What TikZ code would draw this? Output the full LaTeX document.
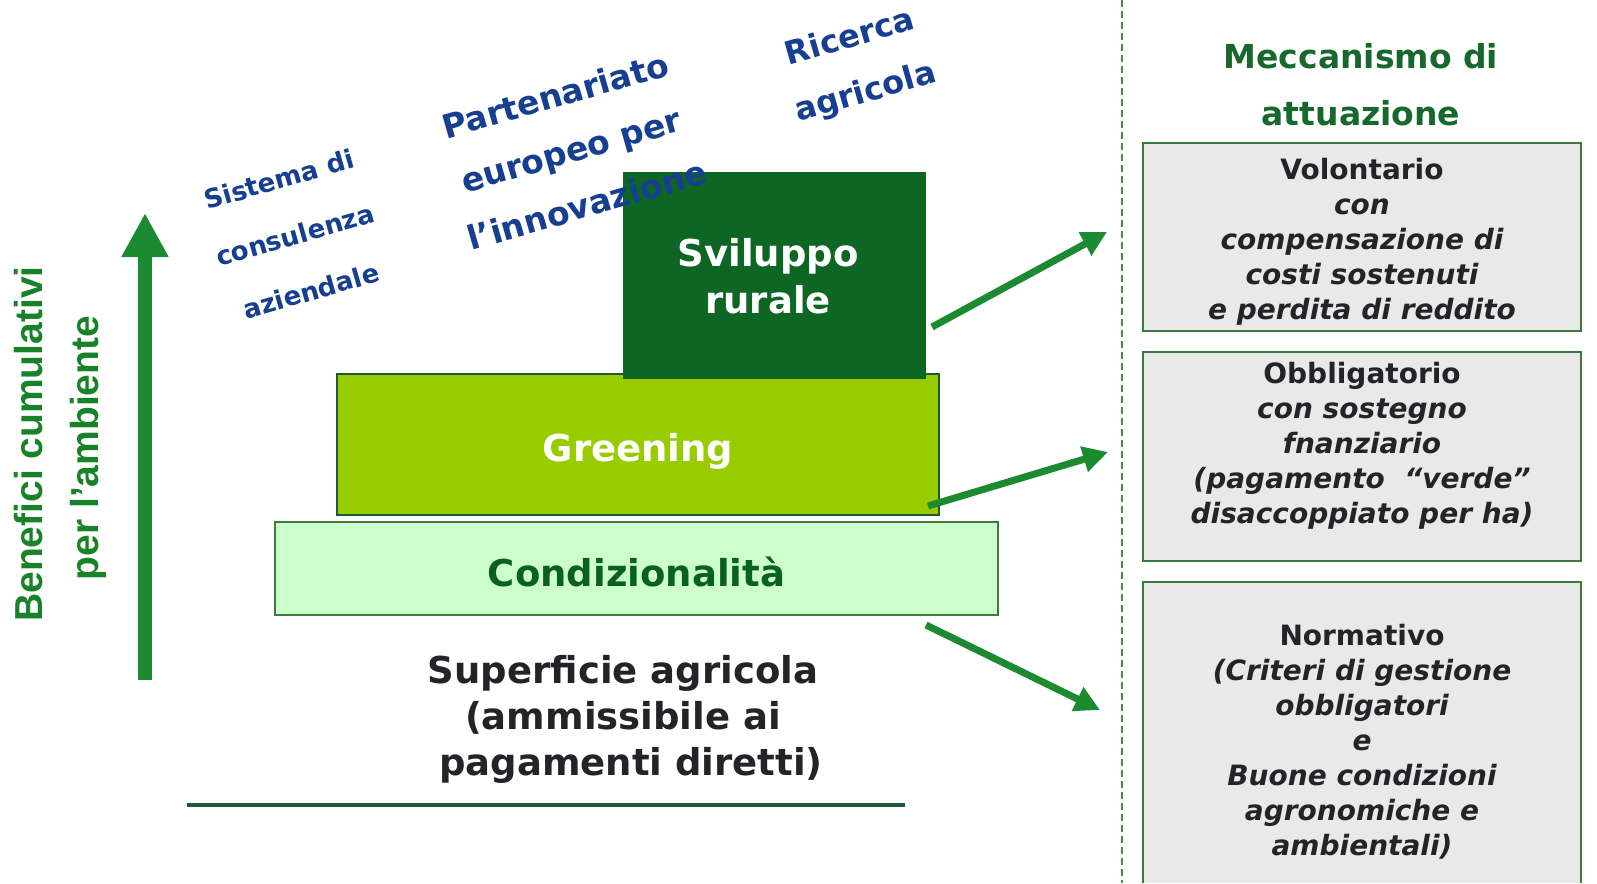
\documentclass[tikz,border=0pt]{standalone}
\usepackage{fontspec}
\setmainfont{DejaVu Sans}
\newfontfamily\arialf{Liberation Sans}
\usetikzlibrary{arrows.meta}
\definecolor{arrowgreen}{RGB}{28,138,48}
\definecolor{benegreen}{RGB}{24,130,40}
\definecolor{titlegreen}{RGB}{22,104,44}
\definecolor{svdark}{RGB}{14,102,36}
\definecolor{greenlime}{RGB}{153,204,0}
\definecolor{condfill}{RGB}{204,255,204}
\definecolor{condtext}{RGB}{10,96,30}
\definecolor{boxborder}{RGB}{62,122,62}
\definecolor{boxfill}{RGB}{233,233,233}
\definecolor{darktext}{RGB}{36,36,40}
\definecolor{bluetext}{RGB}{22,62,145}
\definecolor{linedark}{RGB}{30,90,55}
\definecolor{dashgreen}{RGB}{70,140,70}
\begin{document}
\begin{tikzpicture}[x=1pt,y=-1pt,
  blk/.style={anchor=north west,inner sep=0pt,outer sep=0pt},
  mech/.style={blk,fill=boxfill,draw=boxborder,line width=2pt,minimum width=438pt},
  mtext/.style={align=center,font=\fontsize{28}{35}\selectfont\bfseries\itshape,text=darktext,inner sep=0pt},
  bigtxt/.style={font=\fontsize{37}{47}\selectfont\bfseries,inner sep=0pt,align=center},
  rottxt/.style={align=center,text=bluetext,inner sep=0pt},
  sidetxt/.style={rotate=90,font=\fontsize{39}{46}\selectfont\arialf\bfseries,text=benegreen,inner sep=0pt},
  slant/.style={arrowgreen,line width=7pt,-{Triangle[width=25pt,length=25pt]}}
]
\fill[white] (0,0) rectangle (1597,883);
\useasboundingbox (0,0) rectangle (1597,883);

% dashed separator
\coordinate (dtop) at (1122,0);
\coordinate (dbot) at (1122,883);
\draw[dashgreen,line width=1.2pt,dash pattern=on 7pt off 4pt] (dtop) -- (dbot);

% left axis
\node[sidetxt] (benefici) at (29,444) {Benefici cumulativi};
\node[sidetxt] (ambiente) at (88,448) {per l’ambiente};
\coordinate (vb) at (145,680);
\coordinate (vt) at (145,213);
\draw[arrowgreen,line width=14pt,-{Triangle[width=44pt,length=44pt]}] (vb) -- (vt);

% pyramid
\node[blk,fill=condfill,draw=boxborder,line width=1.5pt,minimum width=723pt,minimum height=93pt] (cond) at (275,522) {};
\node[font=\fontsize{37}{44}\selectfont\bfseries,text=condtext,inner sep=0pt] (condtxt) at ([yshift=-3pt]cond.center) {Condizionalità};
\node[blk,fill=greenlime,draw=linedark,line width=1.5pt,minimum width=602pt,minimum height=141pt] (green) at (337,374) {};
\node[font=\fontsize{37}{44}\selectfont\bfseries,text=white,inner sep=0pt] (greentxt) at ([yshift=-7pt]green.center) {Greening};
\node[blk,fill=svdark,minimum width=303pt,minimum height=207pt] (svbox) at (623,172) {};
\node[bigtxt,text=white] (svtext) at (768,276) {Sviluppo\\rurale};

% bottom label and line
\node[font=\fontsize{37}{46}\selectfont\bfseries,text=darktext,inner sep=0pt,align=center] (superficie) at (623,719)
  {Superficie agricola\\(ammissibile ai\hspace*{84pt}\\\hspace*{16pt}pagamenti diretti)};
\coordinate (bl1) at (187,805);
\coordinate (bl2) at (905,805);
\draw[linedark,line width=4pt] (bl1) -- (bl2);

% rotated blue labels
\node[rottxt,rotate=16,font=\fontsize{26}{58}\selectfont\bfseries] (sistema) at (295,235)
  {Sistema di\\consulenza\\aziendale};
\node[rottxt,rotate=16,font=\fontsize{33}{57}\selectfont\bfseries] (partenariato) at (571,150)
  {Partenariato\\europeo per\\l’innovazione};
\node[rottxt,rotate=16,font=\fontsize{32}{57}\selectfont\bfseries] (ricerca) at (858,66)
  {Ricerca\\agricola};

% right column
\node[font=\fontsize{33}{57}\selectfont\bfseries,text=titlegreen,align=center,inner sep=0pt] (title) at (1361,85)
  {Meccanismo di\\attuazione};
\node[mech,minimum height=188pt] (box1) at (1143,143) {};
\node[mech,minimum height=209pt] (box2) at (1143,352) {};
\node[blk,fill=boxfill,minimum width=438pt,minimum height=301pt] (box3) at (1143,582) {};
\draw[boxborder,line width=2pt] (box3.south west) -- (box3.north west) -- (box3.north east) -- (box3.south east);

\node[mtext] (t1) at (1362,242) {\upshape Volontario\\con\\compensazione di\\costi sostenuti\\e perdita di reddito};
\node[mtext] (t2) at (1362,446) {\upshape Obbligatorio\\con sostegno\\fnanziario\\(pagamento~~“verde”\\disaccoppiato per ha)};
\node[mtext] (t3) at (1362,742) {\upshape Normativo\\(Criteri di gestione\\obbligatori\\e\\Buone condizioni\\agronomiche e\\ambientali)};

% slanted arrows
\coordinate (a1s) at (932,327); \coordinate (a1e) at (1107,232);
\coordinate (a2s) at (928,506); \coordinate (a2e) at (1108,452);
\coordinate (a3s) at (926,625); \coordinate (a3e) at (1100,710);
\draw[slant] (a1s) -- (a1e);
\draw[slant] (a2s) -- (a2e);
\draw[slant] (a3s) -- (a3e);
\end{tikzpicture}
\end{document}
